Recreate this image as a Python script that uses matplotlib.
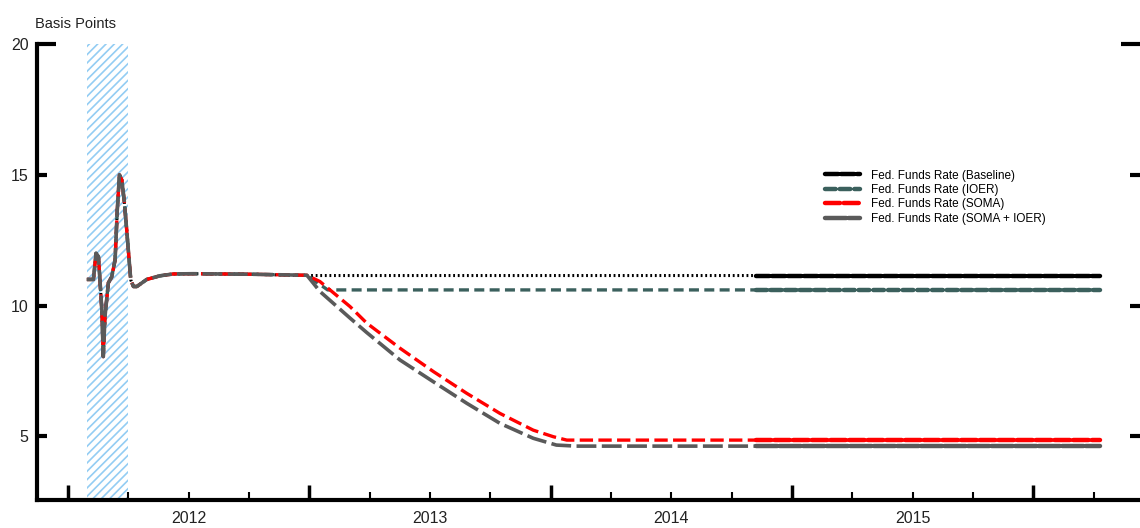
# Fed funds rate paths under IOER / SOMA scenarios

import numpy as np
import matplotlib.pyplot as plt
from matplotlib.transforms import blended_transform_factory

plt.rcParams['font.family'] = ['Liberation Sans Narrow', 'Liberation Sans', 'DejaVu Sans']
plt.rcParams['hatch.linewidth'] = 1.2

# === Data (decimal years, basis points) ===
# common path up to the end of 2012
common_t = [2012.078, 2012.105, 2012.116, 2012.126, 2012.133, 2012.140, 2012.146,
            2012.153, 2012.167, 2012.181, 2012.195, 2012.204, 2012.213, 2012.223,
            2012.233, 2012.243, 2012.253, 2012.260, 2012.271, 2012.285, 2012.326,
            2012.381, 2012.436, 2012.518, 2012.754, 2012.990]
common_v = [11.0, 11.0, 12.0, 11.87, 10.86, 9.84, 8.05,
            9.58, 10.87, 11.1, 11.75, 13.66, 15.0, 14.8,
            13.98, 12.9, 11.75, 10.98, 10.73, 10.73, 11.0,
            11.14, 11.21, 11.22, 11.2, 11.16]

end_t = 2016.277

baseline_t = [2012.990, end_t]
baseline_v = [11.15, 11.15]

ioer_t = [2012.990, 2013.076, end_t]
ioer_v = [11.16, 10.6, 10.6]

soma_t = [2012.990, 2013.044, 2013.169, 2013.238, 2013.376, 2013.514, 2013.652,
          2013.790, 2013.928, 2014.011, 2014.067, end_t]
soma_v = [11.16, 10.92, 9.96, 9.33, 8.37, 7.48, 6.65,
          5.88, 5.24, 4.99, 4.86, 4.86]

both_t = [2012.990, 2013.044, 2013.169, 2013.238, 2013.376, 2013.514, 2013.652,
          2013.790, 2013.928, 2014.024, 2014.107, end_t]
both_v = [11.16, 10.54, 9.52, 8.97, 7.92, 7.09, 6.27,
          5.5, 4.93, 4.67, 4.63, 4.63]

tail_start = 2014.85   # lines are drawn heavier from here on
shade = (2012.079, 2012.249)
years = [2012, 2013, 2014, 2015]

labels = ["Fed. Funds Rate (Baseline)", "Fed. Funds Rate (IOER)",
          "Fed. Funds Rate (SOMA)", "Fed. Funds Rate (SOMA + IOER)"]
colors = ["black", "#3b605d", "#ff0000", "#5a5a5a"]


def full(t, v):
    return np.array(common_t[:-1] + t), np.array(common_v[:-1] + v)


series = [full(baseline_t, baseline_v), full(ioer_t, ioer_v),
          full(soma_t, soma_v), full(both_t, both_v)]

fig = plt.figure(figsize=(11.4, 5.28), dpi=100)
ax = fig.add_axes([0.0325, 0.053, 0.9675, 0.8637])

# shaded hatch box
ax.fill_between(shade, 2.0, 20, facecolor="none", edgecolor="#93cdf3",
                hatch="////", linewidth=0, zorder=1)

styles = [dict(linestyle=(0, (0.6, 0.9)), linewidth=2.2),
          dict(linestyle=(0, (3, 1.6)), linewidth=2.4),
          dict(linestyle=(0, (4, 1.6)), linewidth=2.4),
          dict(linestyle=(0, (5.5, 1.5)), linewidth=2.6)]
tail_dash = [(3, 0.6), (2.4, 0.9), (3.4, 0.8), (4.8, 0.5)]

for (t, v), lab, c, st, td in zip(series, labels, colors, styles, tail_dash):
    ax.plot(t, v, color=c, zorder=3, **st)
    m = t >= tail_start
    tt = np.concatenate([[tail_start], t[m]])
    vv = np.interp(tt, t, v)
    ax.plot(tt, vv, color=c, linewidth=3.2, linestyle=(0, td),
            dash_capstyle="round", zorder=3, label=lab)

ax.set_xlim(2011.8715, 2016.4426)
ax.set_ylim(2.57, 20)

for s in ["top", "right"]:
    ax.spines[s].set_visible(False)
for s in ["left", "bottom"]:
    ax.spines[s].set_linewidth(3)

# y ticks
ax.set_yticks([5, 10, 15])
ax.set_yticks([20], labels=["20"], minor=True)
ax.tick_params(axis="y", which="major", direction="in", length=7, width=3,
               labelsize=11.5, labelcolor="#222222", right=True, pad=6)
ax.tick_params(axis="y", which="minor", direction="in", length=14, width=3,
               labelsize=11.5, labelcolor="#222222", right=True, pad=6)

# x ticks: tall at years, short at quarters
ax.set_xticks([2012, 2013, 2014, 2015, 2016], labels=[])
ax.set_xticks([y + q / 4 for y in range(2012, 2017) for q in (1, 2, 3)
               if y + q / 4 < 2016.44], minor=True)
ax.tick_params(axis="x", which="major", direction="in", length=10.5, width=2.5)
ax.tick_params(axis="x", which="minor", direction="in", length=5.5, width=1.5)

trans = blended_transform_factory(ax.transData, ax.transAxes)
for y in years:
    ax.text(y + 0.5, -0.025, str(y), transform=trans, ha="center", va="top",
            fontsize=11.5, color="#222222")

fig.text(0.031, 0.955, "Basis Points", ha="left", va="center",
         fontsize=10.5, color="#222222")

ax.legend(loc="upper left", bbox_to_anchor=(0.71, 0.735), frameon=False,
          fontsize=8.5, handlelength=3.0, handletextpad=0.9, labelspacing=0.2,
          borderaxespad=0)

fig.savefig("out.png", dpi=100)
